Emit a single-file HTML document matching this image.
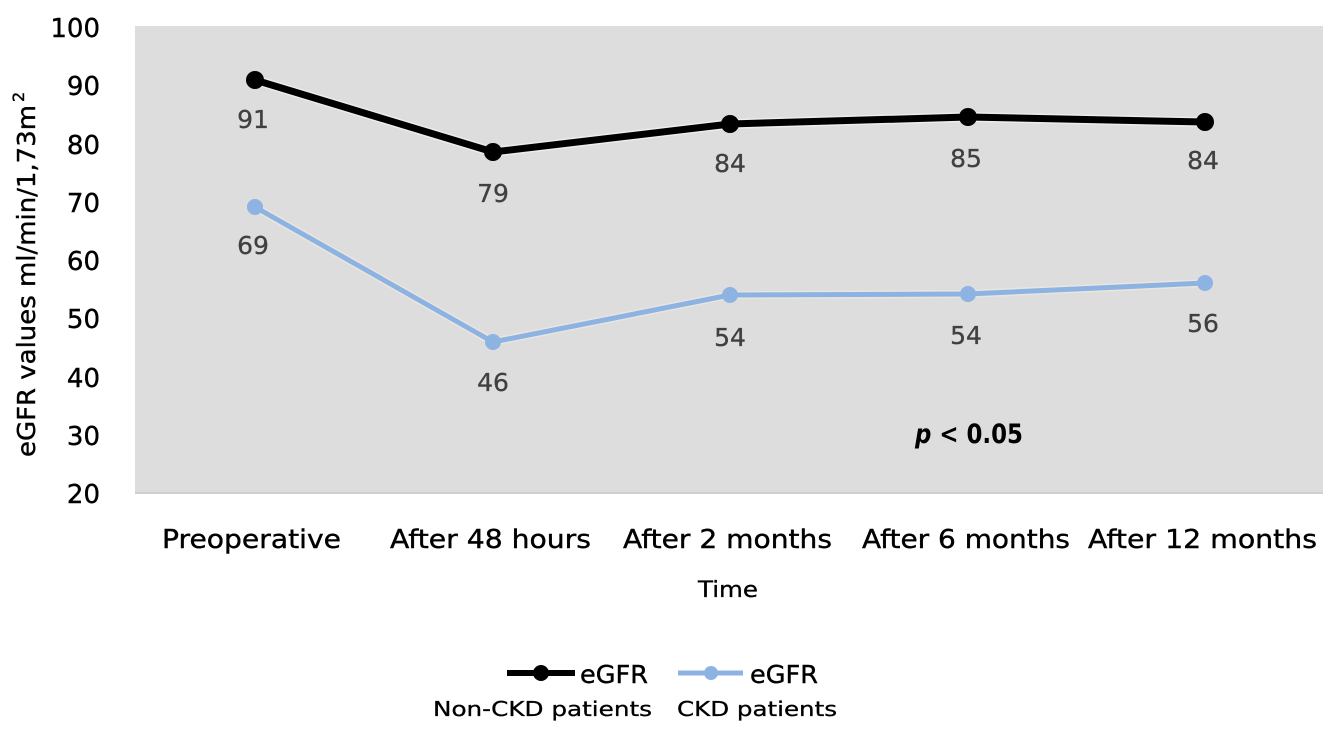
<!DOCTYPE html>
<html>
<head>
<meta charset="utf-8">
<style>
  html,body{margin:0;padding:0;background:#fff;}
  svg{display:block;}
  text{font-family:"DejaVu Sans","Liberation Sans",sans-serif;}
</style>
</head>
<body>
<svg width="1343" height="730" viewBox="0 0 1343 730" xmlns="http://www.w3.org/2000/svg">
  <!-- plot area -->
  <rect x="135" y="26" width="1188" height="467" fill="#dddddd"/>
  <line x1="135" y1="493" x2="1323" y2="493" stroke="#cfcfcf" stroke-width="2"/>

  <!-- y tick labels -->
  <g font-size="26" fill="#000" stroke="#000" stroke-width="0.4" text-anchor="end">
    <text x="100" y="37">100</text>
    <text x="100" y="95">90</text>
    <text x="100" y="154">80</text>
    <text x="100" y="212">70</text>
    <text x="100" y="270">60</text>
    <text x="100" y="328">50</text>
    <text x="100" y="387">40</text>
    <text x="100" y="445">30</text>
    <text x="100" y="503">20</text>
  </g>

  <!-- y axis title -->
  <g transform="translate(35,457) rotate(-90)" stroke="#000" stroke-width="0.4">
    <text x="0" y="0" font-size="25" fill="#000" textLength="352" lengthAdjust="spacingAndGlyphs">eGFR values ml/min/1,73m</text>
    <text x="355" y="-11" font-size="16" fill="#000">2</text>
  </g>

  <!-- category labels -->
  <g font-size="26" fill="#000" stroke="#000" stroke-width="0.4">
    <text x="162" y="548" textLength="179" lengthAdjust="spacingAndGlyphs">Preoperative</text>
    <text x="390" y="548" textLength="201" lengthAdjust="spacingAndGlyphs">After 48 hours</text>
    <text x="623" y="548" textLength="209" lengthAdjust="spacingAndGlyphs">After 2 months</text>
    <text x="862" y="548" textLength="208" lengthAdjust="spacingAndGlyphs">After 6 months</text>
    <text x="1088" y="548" textLength="229" lengthAdjust="spacingAndGlyphs">After 12 months</text>
  </g>
  <text x="698" y="597" font-size="22" fill="#000" stroke="#000" stroke-width="0.3" textLength="60" lengthAdjust="spacingAndGlyphs">Time</text>

  <!-- halos -->
  <polyline points="255,80 493,152 730,124 968,117 1205,122" fill="none" stroke="#f4f4f4" stroke-width="10" stroke-linejoin="round" opacity="0.7"/>
  <polyline points="255,207 493,342 730,295 968,294 1205,283" fill="none" stroke="#efe8df" stroke-width="8" stroke-linejoin="round" opacity="0.7"/>

  <!-- black series -->
  <polyline points="255,80 493,152 730,124 968,117 1205,122" fill="none" stroke="#000" stroke-width="7" stroke-linejoin="round"/>
  <g fill="#000">
    <circle cx="255" cy="80" r="9"/>
    <circle cx="493" cy="152" r="9"/>
    <circle cx="730" cy="124" r="9"/>
    <circle cx="968" cy="117" r="9"/>
    <circle cx="1205" cy="122" r="9"/>
  </g>

  <!-- blue series -->
  <polyline points="255,207 493,342 730,295 968,294 1205,283" fill="none" stroke="#8cb3e2" stroke-width="5" stroke-linejoin="round"/>
  <g fill="#8cb3e2">
    <circle cx="255" cy="207" r="8"/>
    <circle cx="493" cy="342" r="8"/>
    <circle cx="730" cy="295" r="8"/>
    <circle cx="968" cy="294" r="8"/>
    <circle cx="1205" cy="283" r="8"/>
  </g>

  <!-- data labels -->
  <g font-size="25" fill="#404040" stroke="#404040" stroke-width="0.3" text-anchor="middle">
    <text x="253" y="128">91</text>
    <text x="493" y="202">79</text>
    <text x="730" y="172">84</text>
    <text x="966" y="167">85</text>
    <text x="1203" y="169">84</text>
    <text x="253" y="254">69</text>
    <text x="493" y="391">46</text>
    <text x="730" y="346">54</text>
    <text x="966" y="344">54</text>
    <text x="1203" y="332">56</text>
  </g>

  <!-- p value -->
  <text x="915" y="443" font-size="27" font-weight="bold" fill="#000" textLength="108" lengthAdjust="spacingAndGlyphs"><tspan font-style="italic">p</tspan> &lt; 0.05</text>

  <!-- legend -->
  <line x1="507" y1="673" x2="575" y2="673" stroke="#000" stroke-width="6"/>
  <circle cx="541" cy="673" r="8" fill="#000"/>
  <text x="580" y="683" font-size="25" fill="#000" stroke="#000" stroke-width="0.4" textLength="68" lengthAdjust="spacingAndGlyphs">eGFR</text>
  <line x1="678" y1="673" x2="743" y2="673" stroke="#8cb3e2" stroke-width="5"/>
  <circle cx="711" cy="673" r="7" fill="#8cb3e2"/>
  <text x="750" y="683" font-size="25" fill="#000" stroke="#000" stroke-width="0.4" textLength="68" lengthAdjust="spacingAndGlyphs">eGFR</text>
  <text x="433" y="716" font-size="20" fill="#000" stroke="#000" stroke-width="0.3" textLength="219" lengthAdjust="spacingAndGlyphs">Non-CKD patients</text>
  <text x="677" y="716" font-size="20" fill="#000" stroke="#000" stroke-width="0.3" textLength="160" lengthAdjust="spacingAndGlyphs">CKD patients</text>
</svg>
</body>
</html>
